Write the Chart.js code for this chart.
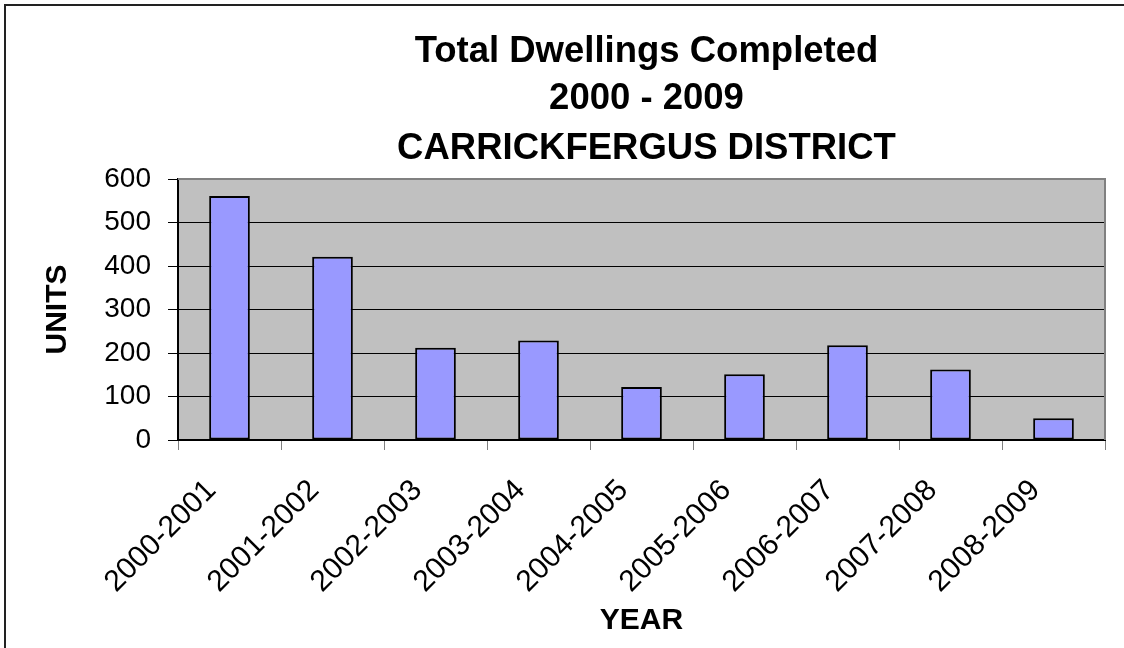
<!DOCTYPE html>
<html>
<head>
<meta charset="utf-8">
<title>Total Dwellings Completed 2000 - 2009</title>
<script src="https://cdn.jsdelivr.net/npm/chart.js@4/dist/chart.umd.min.js"></script>
<style>
  html, body { margin: 0; padding: 0; background: #fff; }
  #wrap { position: relative; width: 1124px; height: 648px; }
</style>
</head>
<body>
<div id="wrap"><canvas id="chart" width="1124" height="648"></canvas></div>
<script>
// --- data ---
const years = ['2000-2001', '2001-2002', '2002-2003', '2003-2004', '2004-2005',
               '2005-2006', '2006-2007', '2007-2008', '2008-2009'];
const units = [561, 421, 212, 229, 122, 151, 218, 162, 50];
const titleLines = ['Total Dwellings Completed', '2000 - 2009', 'CARRICKFERGUS DISTRICT'];
const yTicks = [0, 100, 200, 300, 400, 500, 600];

const FONT = '"Liberation Sans", Arial, sans-serif';

// plot background, plot border, outer frame and the three-line title
const framePlugin = {
  id: 'frame',
  beforeDraw(chart) {
    const { ctx, chartArea: a } = chart;
    ctx.save();
    ctx.fillStyle = '#C0C0C0';
    ctx.fillRect(a.left, a.top, a.right - a.left, a.bottom - a.top);
    // outer frame (top and left edges only are visible)
    ctx.strokeStyle = '#222';
    ctx.lineWidth = 2;
    ctx.beginPath();
    ctx.moveTo(5, chart.height);
    ctx.lineTo(5, 5);
    ctx.lineTo(chart.width, 5);
    ctx.stroke();
    ctx.restore();
  },
  afterDatasetsDraw(chart) {
    const { ctx, chartArea: a } = chart;
    ctx.save();
    ctx.strokeStyle = '#808080';
    ctx.lineWidth = 2;
    ctx.beginPath();
    ctx.moveTo(a.left, a.top);
    ctx.lineTo(a.right, a.top);
    ctx.lineTo(a.right, a.bottom);
    ctx.stroke();
    ctx.restore();
  },
  afterDraw(chart) {
    const { ctx, chartArea: a } = chart;
    const cx = (a.left + a.right) / 2 + 5;
    const ys = [52, 99, 149];
    ctx.save();
    ctx.fillStyle = '#000';
    ctx.font = 'bold 36.5px ' + FONT;
    ctx.textAlign = 'center';
    ctx.textBaseline = 'middle';
    titleLines.forEach((t, i) => ctx.fillText(t, cx, ys[i]));
    ctx.restore();
  }
};

new Chart(document.getElementById('chart').getContext('2d'), {
  type: 'bar',
  data: {
    labels: years,
    datasets: [{
      label: 'Units',
      data: units,
      backgroundColor: '#9999FF',
      borderColor: '#000',
      borderWidth: 2,
      borderSkipped: false,
      categoryPercentage: 1,
      barPercentage: 0.395
    }]
  },
  options: {
    responsive: false,
    animation: false,
    devicePixelRatio: 1,
    layout: { padding: { top: 179, right: 19, bottom: 9, left: 40 } },
    plugins: {
      legend: { display: false },
      title: { display: false },
      tooltip: { enabled: false }
    },
    scales: {
      x: {
        afterFit: s => { s.height = 199; },
        grid: {
          drawOnChartArea: false,
          drawTicks: true,
          tickLength: 10,
          color: '#808080'
        },
        border: { color: '#000', width: 2 },
        ticks: {
          color: '#000',
          font: { family: FONT, size: 30 },
          minRotation: 45,
          maxRotation: 45,
          padding: 23,
          labelOffset: -18,
          autoSkip: false
        },
        title: {
          display: true,
          text: 'YEAR',
          color: '#000',
          font: { family: FONT, size: 30, weight: 'bold' },
          padding: { top: 0, bottom: 0 }
        }
      },
      y: {
        min: 0,
        max: 600,
        afterFit: s => { s.width = 138; },
        afterBuildTicks: s => { s.ticks = yTicks.map(v => ({ value: v })); },
        grid: {
          color: ctx => (ctx.tick && ctx.tick.value === 600 ? '#808080' : '#000'),
          lineWidth: 1,
          tickLength: 10,
          tickColor: '#000'
        },
        border: { color: '#000', width: 2 },
        ticks: {
          color: '#000',
          font: { family: FONT, size: 28 },
          padding: 17
        },
        title: {
          display: true,
          text: 'UNITS',
          color: '#000',
          font: { family: FONT, size: 30, weight: 'bold' },
          padding: { top: 0, bottom: 0 }
        }
      }
    }
  },
  plugins: [framePlugin]
});
</script>
</body>
</html>
